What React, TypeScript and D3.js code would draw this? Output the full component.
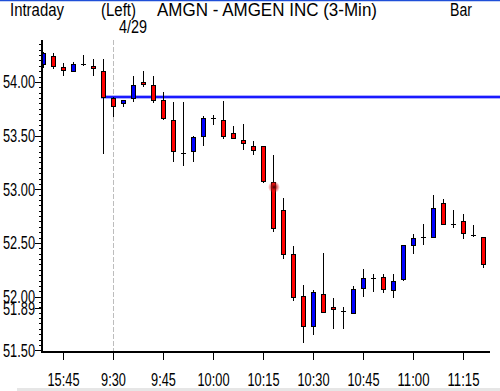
import React from "react";
import * as d3 from "d3";

// Bars: previous session tail (15:39–15:57) then 4/29 session from 9:30, 3-minute bars
const prevOpen = [54.17, 54.24, 54.14, 54.10, 54.17, 54.15, 54.10];
const prevHigh = [54.28, 54.27, 54.18, 54.19, 54.25, 54.21, 54.21];
const prevLow = [54.13, 54.12, 54.06, 54.09, 54.15, 54.06, 53.33];
const prevClose = [54.27, 54.15, 54.11, 54.17, 54.17, 54.13, 53.86];

const todayOpen = [
  53.85, 53.80, 53.85, 54.00, 53.97, 53.83, 53.65, 53.34, 53.36, 53.50,
  53.66, 53.65, 53.52, 53.46, 53.40, 53.40, 53.07, 52.81, 52.40, 52.01,
  51.73, 52.02, 51.90, 51.87, 51.85, 52.08, 52.17, 52.18, 52.06, 52.16,
  52.48, 52.56, 52.56, 52.87, 52.68, 52.70, 52.57, 52.56,
];
const todayHigh = [
  53.86, 53.83, 54.06, 54.10, 54.06, 53.91, 53.81, 53.81, 53.50, 53.68,
  53.69, 53.82, 53.59, 53.61, 53.45, 53.40, 53.32, 52.92, 52.47, 52.11,
  52.06, 52.41, 51.99, 51.90, 52.10, 52.26, 52.21, 52.21, 52.21, 52.48,
  52.58, 52.68, 52.95, 52.91, 52.81, 52.77, 52.67, 52.56,
];
const todayLow = [
  53.67, 53.77, 53.81, 53.95, 53.80, 53.65, 53.25, 53.22, 53.25, 53.40,
  53.60, 53.47, 53.47, 53.37, 53.32, 53.06, 52.60, 52.35, 51.96, 51.57,
  51.64, 51.85, 51.70, 51.70, 51.84, 52.00, 52.04, 52.03, 51.99, 52.15,
  52.40, 52.48, 52.55, 52.67, 52.64, 52.54, 52.56, 52.27,
];
const todayClose = [
  53.78, 53.83, 53.97, 53.98, 53.83, 53.66, 53.36, 53.34, 53.49, 53.66,
  53.66, 53.50, 53.48, 53.43, 53.37, 53.08, 52.64, 52.40, 52.00, 51.73,
  52.04, 51.86, 51.88, 51.87, 52.07, 52.17, 52.17, 52.07, 52.15, 52.48,
  52.55, 52.56, 52.83, 52.68, 52.68, 52.59, 52.57, 52.30,
];

const prevCloseLine = 53.86;
const yTickValues = [54.0, 53.5, 53.0, 52.5, 52.0, 51.5];
const yExtraLabel = 51.89;
const xTickLabels = ["15:45", "9:30", "9:45", "10:00", "10:15", "10:30", "10:45", "11:00", "11:15"];
const xTickBars = [2, 7, 12, 17, 22, 27, 32, 37, 42];
const sessionStartBar = 7;
const markerBar = 23;
const markerPrice = 53.02;

const W = 500;
const H = 391;
const plotLeft = 42;
const plotRight = 490;
const plotTop = 40;
const plotBottom = 352;
const FONT = "'Liberation Sans', Arial, sans-serif";

// width of narrow bitmap-like text: digits 8px, punctuation narrower
const textW = (s: string) => {
  let w = 0;
  for (const ch of s) {
    if (/[0-9]/.test(ch)) w += 7.2;
    else if (ch === ":" || ch === ".") w += 3.2;
    else w += 7;
  }
  return w;
};

export default function App() {
  const open = [...prevOpen, ...todayOpen];
  const high = [...prevHigh, ...todayHigh];
  const low = [...prevLow, ...todayLow];
  const close = [...prevClose, ...todayClose];
  const n = open.length;

  const x = d3.scaleLinear().domain([-0.1, n - 0.3]).range([plotLeft, plotRight]);
  const y = d3.scaleLinear().domain([51.484, 54.391]).range([plotBottom, plotTop]);

  const minorTicks = d3.range(51.5, 54.39, 0.05);
  const px = (v: number) => Math.round(v) + 0.5;

  const candles = d3.range(n).map((i) => {
    const cx = Math.round(x(i));
    const o = open[i];
    const c = close[i];
    const yh = Math.round(y(high[i]));
    const yl = Math.round(y(low[i]));
    const yo = Math.round(y(o));
    const yc = Math.round(y(c));
    const top = Math.min(yo, yc);
    const bot = Math.max(yo, yc);
    const doji = Math.abs(o - c) < 0.005;
    return (
      <g key={i}>
        <line x1={cx + 0.5} x2={cx + 0.5} y1={yh} y2={yl} stroke="#000" strokeWidth={1} />
        {doji ? (
          <line x1={cx - 2} x2={cx + 3} y1={yo + 0.5} y2={yo + 0.5} stroke="#000" strokeWidth={1} />
        ) : (
          <rect
            x={cx - 1.5}
            y={top + 0.5}
            width={4}
            height={Math.max(bot - top, 1)}
            fill={c > o ? "#0000ff" : "#ff0000"}
            stroke="#000"
            strokeWidth={1}
          />
        )}
      </g>
    );
  });

  const yLine = y(prevCloseLine);
  const T = (props: any) => (
    <text fontSize={17.5} fill="#000" lengthAdjust="spacingAndGlyphs" {...props} />
  );

  return (
    <svg width={W} height={H} style={{ position: "absolute", left: 0, top: 0, background: "#fff" }} fontFamily={FONT}>
      <defs>
        <clipPath id="plotClip">
          <rect x={plotLeft} y={plotTop - 5} width={W - plotLeft} height={plotBottom - plotTop + 5} />
        </clipPath>
        <radialGradient id="markerGrad">
          <stop offset="0%" stopColor="#300000" stopOpacity={0.95} />
          <stop offset="45%" stopColor="#c01010" stopOpacity={0.7} />
          <stop offset="100%" stopColor="#ff2020" stopOpacity={0} />
        </radialGradient>
      </defs>
      <rect x={0} y={0} width={W} height={H} fill="#fff" />
      <line x1={0} x2={W} y1={0.5} y2={0.5} stroke="#1f4fd8" strokeWidth={1.5} />

      {/* header */}
      <T x={10} y={16} textLength={54}>Intraday</T>
      <T x={101} y={16} textLength={35}>(Left)</T>
      <T x={157} y={16} textLength={220}>AMGN - AMGEN INC  (3-Min)</T>
      <T x={450} y={16} textLength={22}>Bar</T>
      <T x={x(sessionStartBar) + 6} y={33} textLength={28}>4/29</T>

      {/* session divider */}
      <line
        x1={px(x(sessionStartBar))}
        x2={px(x(sessionStartBar))}
        y1={plotTop}
        y2={plotBottom}
        stroke="#bdbdbd"
        strokeWidth={1}
        strokeDasharray="5,2"
      />

      <g clipPath="url(#plotClip)">
        {/* previous close line */}
        <line x1={x(sessionStartBar - 1) - 2} x2={W} y1={yLine} y2={yLine} stroke="#7878ff" strokeOpacity={0.6} strokeWidth={4} />
        <line x1={x(sessionStartBar - 1) - 2} x2={W} y1={yLine} y2={yLine} stroke="#1a1aff" strokeWidth={2} />
        {candles}
      </g>

      {/* marker glow */}
      <circle cx={x(markerBar) + 1} cy={y(markerPrice)} r={6} fill="url(#markerGrad)" />

      {/* y axis */}
      <line x1={plotLeft} x2={plotLeft} y1={plotTop} y2={plotBottom + 1} stroke="#000" strokeWidth={2} />
      {minorTicks.map((v, i) => (
        <line key={"m" + i} x1={plotLeft - 3} x2={plotLeft} y1={px(y(v))} y2={px(y(v))} stroke="#000" strokeWidth={1} />
      ))}
      {[...yTickValues, yExtraLabel].map((v, i) => {
        const s = d3.format(".2f")(v);
        return (
          <g key={"t" + i}>
            <line x1={plotLeft - 7} x2={plotLeft} y1={px(y(v))} y2={px(y(v))} stroke="#000" strokeWidth={1} />
            <T x={plotLeft - 7 - textW(s)} y={y(v) + 6.5} textLength={textW(s)}>
              {s}
            </T>
          </g>
        );
      })}

      {/* x axis */}
      <line x1={plotLeft - 1} x2={plotRight} y1={plotBottom} y2={plotBottom} stroke="#000" strokeWidth={2} />
      {xTickBars.map((b, i) => {
        const s = xTickLabels[i];
        return (
          <g key={"x" + i}>
            <line x1={px(x(b))} x2={px(x(b))} y1={plotBottom} y2={plotBottom + 8} stroke="#000" strokeWidth={1} />
            <T x={x(b) + 0.5 - textW(s) / 2} y={386} textLength={textW(s)}>
              {s}
            </T>
          </g>
        );
      })}

      {/* bottom strip */}
      <rect x={17} y={388} width={W - 17} height={3} fill="#e6e6e6" />
    </svg>
  );
}
